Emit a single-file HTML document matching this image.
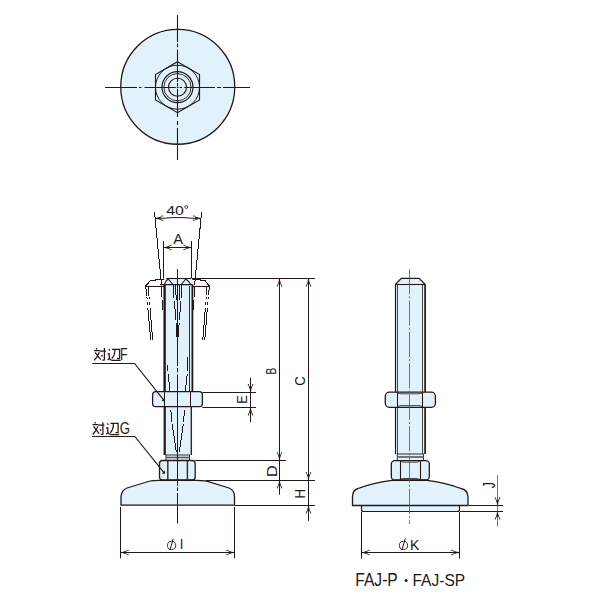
<!DOCTYPE html>
<html><head><meta charset="utf-8"><style>
html,body{margin:0;padding:0;background:#fff;width:600px;height:600px;overflow:hidden}
svg{display:block}
text{font-family:"Liberation Sans",sans-serif;fill:#231815}
</style></head><body>
<svg width="600" height="600" viewBox="0 0 600 600">
<rect width="600" height="600" fill="#fff"/>
<ellipse cx="177.75" cy="86.85" rx="57.0" ry="57.4" fill="#e2f2fc" stroke="#231815" stroke-width="1.3"/>
<polygon points="177.50,61.75 199.54,74.47 199.54,99.92 177.50,112.65 155.46,99.93 155.46,74.47" fill="#e2f2fc" stroke="#231815" stroke-width="1.1"/>
<circle cx="177.5" cy="87.2" r="22.0" fill="none" stroke="#231815" stroke-width="1"/>
<circle cx="177.5" cy="87.2" r="15.5" fill="none" stroke="#231815" stroke-width="1.2"/>
<circle cx="177.5" cy="87.2" r="13.6" fill="none" stroke="#231815" stroke-width="0.9"/>
<circle cx="177.5" cy="87.2" r="9" fill="none" stroke="#231815" stroke-width="1.1"/>
<path d="M177.5,15V42 M177.5,43.4V47.3 M177.5,49.7V82 M177.5,83V86 M177.5,86.6V88.2 M177.5,89V117 M177.5,121V125 M177.5,128V160" stroke="#231815" stroke-width="1.1" fill="none"/>
<path d="M105,87.5H137 M139,87.5H141.5 M144.5,87.5H175.8 M176.8,87.5H178.5 M179.5,87.5H182 M184.3,87.5H215 M217,87.5H221 M223,87.5H250" stroke="#231815" stroke-width="1.1" fill="none"/>
<path d="M154.5,212 L161.5,285" fill="none" stroke="#231815" stroke-width="1" shape-rendering="crispEdges"/>
<path d="M201.6,212 L194.6,285" fill="none" stroke="#231815" stroke-width="1" shape-rendering="crispEdges"/>
<path d="M155,218.4 L165,218.2 L172,217.6 H184 L191,218.2 L201,218.4" fill="none" stroke="#231815" stroke-width="1"/>
<path d="M155.00,218.50 L160.37,219.13 L160.28,217.33Z" fill="#231815" stroke="#231815" stroke-width="0.4"/>
<path d="M163.29,220.19 L161.82,220.26 L160.12,219.05 L157.46,218.38 L160.04,217.45 L161.61,216.07 L163.08,215.99" fill="none" stroke="#231815" stroke-width="0.9" stroke-linejoin="round"/>
<path d="M201.00,218.50 L195.72,217.33 L195.63,219.13Z" fill="#231815" stroke="#231815" stroke-width="0.4"/>
<path d="M192.92,215.99 L194.39,216.07 L195.96,217.45 L198.54,218.38 L195.88,219.05 L194.18,220.26 L192.71,220.19" fill="none" stroke="#231815" stroke-width="0.9" stroke-linejoin="round"/>
<text transform="translate(166.28,214.67) scale(1.201,1)" font-size="13.24">40</text>
<circle cx="186.3" cy="207.0" r="1.45" fill="none" stroke="#231815" stroke-width="0.8"/>
<line x1="163.5" y1="241" x2="163.5" y2="278.5" stroke="#231815" stroke-width="1"/>
<line x1="191.5" y1="241" x2="191.5" y2="278.5" stroke="#231815" stroke-width="1"/>
<line x1="163.5" y1="247.5" x2="191.6" y2="247.5" stroke="#231815" stroke-width="1"/>
<path d="M163.50,247.50 L168.83,248.40 L168.83,246.60Z" fill="#231815" stroke="#231815" stroke-width="0.4"/>
<path d="M171.70,249.60 L170.22,249.60 L168.58,248.30 L165.96,247.50 L168.58,246.70 L170.22,245.40 L171.70,245.40" fill="none" stroke="#231815" stroke-width="0.9" stroke-linejoin="round"/>
<path d="M191.60,247.50 L186.27,246.60 L186.27,248.40Z" fill="#231815" stroke="#231815" stroke-width="0.4"/>
<path d="M183.40,245.40 L184.88,245.40 L186.52,246.70 L189.14,247.50 L186.52,248.30 L184.88,249.60 L183.40,249.60" fill="none" stroke="#231815" stroke-width="0.9" stroke-linejoin="round"/>
<text transform="translate(173.20,243.80) scale(0.975,1)" font-size="15.07">A</text>
<path d="M166,279 H156 L155.5,280.5 H150.5 L145.7,286 H164" fill="none" stroke="#231815" stroke-width="1.0" shape-rendering="crispEdges"/>
<path d="M145.7,286 L146.6,295.5 M146.9,296.7 L147.1,299.3 M147.3,302 L147.5,304.7 M147.8,307.5 L150.7,339.7" fill="none" stroke="#231815" stroke-width="1.0" shape-rendering="crispEdges"/>
<path d="M148.3,287 L148.8,295.5 M149.1,296.7 L149.3,299.3 M149.5,302 L149.7,304.7 M150,307.5 L152.7,339.7" fill="none" stroke="#231815" stroke-width="1.0" shape-rendering="crispEdges"/>
<path d="M190,279 H200 L200.5,280.5 H205 L209.3,286 H192" fill="none" stroke="#231815" stroke-width="1.0" shape-rendering="crispEdges"/>
<path d="M209.3,286 L208.6,295.5 M208.3,296.7 L208.1,299.3 M207.9,302 L207.7,304.7 M207.4,307.5 L204.8,339.7" fill="none" stroke="#231815" stroke-width="1.0" shape-rendering="crispEdges"/>
<path d="M206.8,287 L206.5,295.5 M206.3,296.7 L206.1,299.3 M205.9,302 L205.7,304.7 M205.4,307.5 L202.8,339.7" fill="none" stroke="#231815" stroke-width="1.0" shape-rendering="crispEdges"/>
<path d="M161.5,287 L161.7,297 M162,300 L162.3,310" fill="none" stroke="#231815" stroke-width="1.0" shape-rendering="crispEdges"/>
<path d="M194.5,287 L194.3,297 M194,300 L193.7,310" fill="none" stroke="#231815" stroke-width="1.0" shape-rendering="crispEdges"/>
<rect x="164.3" y="278.5" width="28" height="176.5" fill="#e2f2fc"/>
<line x1="164.6" y1="284.3" x2="164.6" y2="392" stroke="#231815" stroke-width="2.4"/>
<line x1="164.4" y1="407" x2="164.4" y2="455" stroke="#231815" stroke-width="1.6"/>
<line x1="192.4" y1="284.3" x2="192.4" y2="392" stroke="#231815" stroke-width="1.8"/>
<line x1="191.3" y1="407" x2="191.3" y2="455" stroke="#231815" stroke-width="1.3"/>
<line x1="165.5" y1="407" x2="165.5" y2="455" stroke="#231815" stroke-width="0.8"/>
<line x1="189.5" y1="286" x2="189.5" y2="392" stroke="#231815" stroke-width="0.9"/>
<path d="M166.3,278.5 H191.2" fill="none" stroke="#231815" stroke-width="1.1"/>
<path d="M160,284.6 H192.5" fill="none" stroke="#231815" stroke-width="1.1"/>
<path d="M164.5,284.5 Q166,280.5 168.1,279 L173,284.5 M181.3,284.5 L185.8,279 Q188,280.5 190.8,284.5" fill="none" stroke="#231815" stroke-width="1.1"/>
<path d="M173.2,285 L174,298 M174.3,301 L176,320 M176.2,323 L176.8,337 M182,285 L181.2,298 M181,301 L179.3,320 M179.1,323 L178.5,337" fill="none" stroke="#231815" stroke-width="1.0" shape-rendering="crispEdges"/>
<path d="M175.5,285 L176.3,300 M180,285 L179.2,300" fill="none" stroke="#231815" stroke-width="1.0" shape-rendering="crispEdges"/>
<path d="M167.2,365 L167.6,371 M168.2,374 L170,392 M188,357 L187.5,371 M187.2,374 L185.3,392" fill="none" stroke="#231815" stroke-width="1.0" shape-rendering="crispEdges"/>
<path d="M170.8,410 L172,422 M172.2,424 L176.3,452 M184.5,410 L183.5,422 M183.3,424 L179.3,452" fill="none" stroke="#231815" stroke-width="1.0" shape-rendering="crispEdges"/>
<rect x="152.6" y="391.6" width="49.8" height="15.0" rx="3.2" ry="3.2" fill="#e2f2fc" stroke="#231815" stroke-width="1.3"/>
<line x1="164.5" y1="392" x2="164.5" y2="407" stroke="#231815" stroke-width="1"/>
<line x1="190.5" y1="392" x2="190.5" y2="407" stroke="#231815" stroke-width="1"/>
<rect x="166" y="455" width="23.5" height="5.5" fill="#e2f2fc" stroke="#231815" stroke-width="0.9"/>
<line x1="166" y1="457.5" x2="189.5" y2="457.5" stroke="#555" stroke-width="1.6"/>
<rect x="159.5" y="460.5" width="35.7" height="19.5" rx="3" ry="3" fill="#e2f2fc" stroke="#231815" stroke-width="1.3"/>
<line x1="167.8" y1="461" x2="167.8" y2="480" stroke="#333" stroke-width="1.5"/>
<line x1="187.4" y1="461" x2="187.4" y2="480" stroke="#333" stroke-width="1.5"/>
<path d="M121,505.2 V497 Q121.5,490 127,488 L150,481 Q152,480.3 160,480.3 H196 Q203,480.3 206,481 L229,488 Q234.5,490 234.5,497 V505.2 Z" fill="#e2f2fc" stroke="#231815" stroke-width="1.3"/>
<path d="M177.5,269V366 M177.5,368V372.4 M177.5,374.5V486 M177.5,487.5V491 M177.5,493V523.5" stroke="#231815" stroke-width="1.0" fill="none"/>
<line x1="192" y1="278.5" x2="315" y2="278.5" stroke="#231815" stroke-width="1.1"/>
<line x1="202.4" y1="392.5" x2="256" y2="392.5" stroke="#231815" stroke-width="1.1"/>
<line x1="202.4" y1="407.5" x2="256" y2="407.5" stroke="#231815" stroke-width="1.1"/>
<line x1="195.2" y1="460.5" x2="286" y2="460.5" stroke="#231815" stroke-width="1.1"/>
<line x1="206" y1="480.5" x2="315" y2="480.5" stroke="#231815" stroke-width="1.1"/>
<line x1="234.5" y1="505.5" x2="315" y2="505.5" stroke="#231815" stroke-width="1.1"/>
<line x1="279.5" y1="278.4" x2="279.5" y2="460.3" stroke="#231815" stroke-width="1"/>
<path d="M279.50,278.40 L278.60,283.73 L280.40,283.73Z" fill="#231815" stroke="#231815" stroke-width="0.4"/>
<path d="M277.40,286.60 L277.40,285.12 L278.70,283.48 L279.50,280.86 L280.30,283.48 L281.60,285.12 L281.60,286.60" fill="none" stroke="#231815" stroke-width="0.9" stroke-linejoin="round"/>
<path d="M279.50,460.30 L280.40,454.97 L278.60,454.97Z" fill="#231815" stroke="#231815" stroke-width="0.4"/>
<path d="M281.60,452.10 L281.60,453.58 L280.30,455.22 L279.50,457.84 L278.70,455.22 L277.40,453.58 L277.40,452.10" fill="none" stroke="#231815" stroke-width="0.9" stroke-linejoin="round"/>
<line x1="308.5" y1="278.4" x2="308.5" y2="480.2" stroke="#231815" stroke-width="1"/>
<path d="M308.50,278.40 L307.60,283.73 L309.40,283.73Z" fill="#231815" stroke="#231815" stroke-width="0.4"/>
<path d="M306.40,286.60 L306.40,285.12 L307.70,283.48 L308.50,280.86 L309.30,283.48 L310.60,285.12 L310.60,286.60" fill="none" stroke="#231815" stroke-width="0.9" stroke-linejoin="round"/>
<path d="M308.50,480.20 L309.40,474.87 L307.60,474.87Z" fill="#231815" stroke="#231815" stroke-width="0.4"/>
<path d="M310.60,472.00 L310.60,473.48 L309.30,475.12 L308.50,477.74 L307.70,475.12 L306.40,473.48 L306.40,472.00" fill="none" stroke="#231815" stroke-width="0.9" stroke-linejoin="round"/>
<line x1="279.5" y1="460.3" x2="279.5" y2="494.7" stroke="#231815" stroke-width="1"/>
<path d="M279.50,480.20 L278.60,485.53 L280.40,485.53Z" fill="#231815" stroke="#231815" stroke-width="0.4"/>
<path d="M277.40,488.40 L277.40,486.92 L278.70,485.28 L279.50,482.66 L280.30,485.28 L281.60,486.92 L281.60,488.40" fill="none" stroke="#231815" stroke-width="0.9" stroke-linejoin="round"/>
<line x1="250.5" y1="377.7" x2="250.5" y2="422" stroke="#231815" stroke-width="1"/>
<path d="M250.50,392.20 L251.40,386.87 L249.60,386.87Z" fill="#231815" stroke="#231815" stroke-width="0.4"/>
<path d="M252.60,384.00 L252.60,385.48 L251.30,387.12 L250.50,389.74 L249.70,387.12 L248.40,385.48 L248.40,384.00" fill="none" stroke="#231815" stroke-width="0.9" stroke-linejoin="round"/>
<path d="M250.50,407.30 L249.60,412.63 L251.40,412.63Z" fill="#231815" stroke="#231815" stroke-width="0.4"/>
<path d="M248.40,415.50 L248.40,414.02 L249.70,412.38 L250.50,409.76 L251.30,412.38 L252.60,414.02 L252.60,415.50" fill="none" stroke="#231815" stroke-width="0.9" stroke-linejoin="round"/>
<line x1="308.5" y1="480.2" x2="308.5" y2="521" stroke="#231815" stroke-width="1"/>
<path d="M308.50,505.30 L307.60,510.63 L309.40,510.63Z" fill="#231815" stroke="#231815" stroke-width="0.4"/>
<path d="M306.40,513.50 L306.40,512.02 L307.70,510.38 L308.50,507.76 L309.30,510.38 L310.60,512.02 L310.60,513.50" fill="none" stroke="#231815" stroke-width="0.9" stroke-linejoin="round"/>
<text transform="translate(276.40,374.42) rotate(-90) scale(0.689,1)" font-size="14.78">B</text>
<text transform="translate(304.86,385.67) rotate(-90) scale(0.966,1)" font-size="13.80">C</text>
<text transform="translate(247.00,403.82) rotate(-90) scale(0.824,1)" font-size="15.51">E</text>
<text transform="translate(276.80,477.10) rotate(-90) scale(1.059,1)" font-size="15.36">D</text>
<text transform="translate(305.10,498.56) rotate(-90) scale(0.921,1)" font-size="14.35">H</text>
<path transform="translate(93,346)" d="M3.3,2.0 L3.9,3.4 M1.0,4.6 H6.8 M2.1,6.3 L7.6,13.6 M6.3,6.3 Q5,10.5 1.2,14.4 M6.8,5.1 H12.9 M11.4,2.1 V13.8 Q11.4,14.5 9.3,14.1 M8.6,9 L9.5,10.6 M15.8,3.2 L16.9,4.7 M14.5,7.8 H16.3 V12.4 L14.7,14.2 M16.3,12.6 Q17.5,14.4 20,14.4 H27.7 M19,3.3 H26.6 V12.3 Q26.6,12.9 24,12.4 M21.9,3.3 Q21.9,10 18.7,12.6" fill="none" stroke="#231815" stroke-width="1.25"/>
<text transform="translate(119.90,360.00) scale(0.753,1)" font-size="16.52">F</text>
<text transform="translate(119.75,434.04) scale(0.836,1)" font-size="15.63">G</text>
<path transform="translate(91.5,420.1)" d="M3.3,2.0 L3.9,3.4 M1.0,4.6 H6.8 M2.1,6.3 L7.6,13.6 M6.3,6.3 Q5,10.5 1.2,14.4 M6.8,5.1 H12.9 M11.4,2.1 V13.8 Q11.4,14.5 9.3,14.1 M8.6,9 L9.5,10.6 M15.8,3.2 L16.9,4.7 M14.5,7.8 H16.3 V12.4 L14.7,14.2 M16.3,12.6 Q17.5,14.4 20,14.4 H27.7 M19,3.3 H26.6 V12.3 Q26.6,12.9 24,12.4 M21.9,3.3 Q21.9,10 18.7,12.6" fill="none" stroke="#231815" stroke-width="1.25"/>
<path d="M92.3,363.5 H134.5 L164.2,400.6" fill="none" stroke="#231815" stroke-width="1.15"/>
<path d="M164.8,401.2 L161.6,401.1 L164.5,397.6 Z" fill="#231815"/>
<path d="M92,436.5 H134.8 L164.4,473.2" fill="none" stroke="#231815" stroke-width="1.15"/>
<path d="M165,473.8 L161.8,473.7 L164.7,470.2 Z" fill="#231815"/>
<line x1="120.5" y1="507" x2="120.5" y2="558.3" stroke="#231815" stroke-width="1"/>
<line x1="234.5" y1="507" x2="234.5" y2="558.3" stroke="#231815" stroke-width="1"/>
<line x1="120.5" y1="552.5" x2="234.4" y2="552.5" stroke="#231815" stroke-width="1"/>
<path d="M120.50,552.50 L125.83,553.40 L125.83,551.60Z" fill="#231815" stroke="#231815" stroke-width="0.4"/>
<path d="M128.70,554.60 L127.22,554.60 L125.58,553.30 L122.96,552.50 L125.58,551.70 L127.22,550.40 L128.70,550.40" fill="none" stroke="#231815" stroke-width="0.9" stroke-linejoin="round"/>
<path d="M234.40,552.50 L229.07,551.60 L229.07,553.40Z" fill="#231815" stroke="#231815" stroke-width="0.4"/>
<path d="M226.20,550.40 L227.68,550.40 L229.32,551.70 L231.94,552.50 L229.32,553.30 L227.68,554.60 L226.20,554.60" fill="none" stroke="#231815" stroke-width="0.9" stroke-linejoin="round"/>
<text transform="translate(179.83,549.20) scale(0.897,1)" font-size="14.49">I</text>
<ellipse cx="171.6" cy="545.4" rx="4.1" ry="4.1" fill="none" stroke="#231815" stroke-width="0.9"/>
<line x1="173.2" y1="538.7" x2="170.0" y2="550.0" stroke="#231815" stroke-width="1.0"/>
<path d="M395.4,284.5 L401.3,278.4 H419.1 L425.3,284.5 V454 H395.4 Z" fill="#e2f2fc"/>
<path d="M395.4,284.5 L401.3,278.4 H419.1 L425.3,284.5" fill="none" stroke="#231815" stroke-width="1.2"/>
<line x1="395.4" y1="284.5" x2="425.3" y2="284.5" stroke="#231815" stroke-width="1.1"/>
<line x1="395.5" y1="284.5" x2="395.5" y2="454" stroke="#231815" stroke-width="1.2"/>
<line x1="397.5" y1="284.5" x2="397.5" y2="454" stroke="#231815" stroke-width="0.8"/>
<line x1="425.1" y1="284.5" x2="425.1" y2="454" stroke="#231815" stroke-width="1.7"/>
<line x1="422.5" y1="284.5" x2="422.5" y2="454" stroke="#231815" stroke-width="0.8"/>
<rect x="385.3" y="392.2" width="50.1" height="15.1" rx="4" ry="4" fill="#e2f2fc" stroke="#231815" stroke-width="1.3"/>
<line x1="397.5" y1="392.5" x2="397.5" y2="407" stroke="#231815" stroke-width="1.1"/>
<line x1="422.5" y1="392.5" x2="422.5" y2="407" stroke="#231815" stroke-width="1.1"/>
<path d="M397.5,393 Q399.5,393.8 402,393.8 H418 Q420.5,393.8 422.5,393 M397.5,406.5 Q399.5,405.6 402,405.6 H418 Q420.5,405.6 422.5,406.5" fill="none" stroke="#231815" stroke-width="0.8"/>
<rect x="397.2" y="454" width="26.2" height="6.6" fill="#e2f2fc" stroke="#231815" stroke-width="0.9"/>
<line x1="397.2" y1="457" x2="423.4" y2="457" stroke="#555" stroke-width="1.6"/>
<rect x="391.3" y="460.6" width="38" height="19.4" rx="3.5" ry="3.5" fill="#e2f2fc" stroke="#231815" stroke-width="1.3"/>
<line x1="400.5" y1="461" x2="400.5" y2="480" stroke="#231815" stroke-width="1.1"/>
<line x1="420.5" y1="461" x2="420.5" y2="480" stroke="#231815" stroke-width="1.1"/>
<path d="M400.5,461.2 Q402,462.2 404,462.2 H416 Q418,462.2 419.5,461.2 M400.5,479.4 Q402,478.5 404,478.5 H416 Q418,478.5 419.5,479.4" fill="none" stroke="#231815" stroke-width="0.8"/>
<path d="M361.5,505.5 V509.5 Q361.5,511.5 363.5,511.5 H457.5 Q459.5,511.5 459.5,509.5 V505.5 Z" fill="#e2f2fc" stroke="#231815" stroke-width="1.2"/>
<path d="M352.5,505.5 V497 Q352.5,490 358,488.5 Q375,482 392,480.3 H427 Q444,482 461,488.5 Q468,490 468,497 V505.5 Z" fill="#e2f2fc" stroke="#231815" stroke-width="1.3"/>
<path d="M409.5,269.0V294.3 M409.5,296.3V298.40000000000003 M409.5,300.40000000000003V325.70000000000005 M409.5,327.70000000000005V329.80000000000007 M409.5,331.80000000000007V357.1000000000001 M409.5,359.1000000000001V361.2000000000001 M409.5,363.2000000000001V388.5000000000001 M409.5,390.5000000000001V392.60000000000014 M409.5,394.60000000000014V419.90000000000015 M409.5,421.90000000000015V424.00000000000017 M409.5,426.00000000000017V451.3000000000002 M409.5,453.3000000000002V455.4000000000002 M409.5,457.4000000000002V482.7000000000002 M409.5,484.7000000000002V486.80000000000024 M409.5,488.80000000000024V514.1000000000003 M409.5,516.1000000000003V518.2000000000003 M409.5,520.2000000000003V524" stroke="#555" stroke-width="0.8" fill="none"/>
<line x1="361.5" y1="512" x2="361.5" y2="558.6" stroke="#231815" stroke-width="1"/>
<line x1="459.5" y1="512" x2="459.5" y2="558.6" stroke="#231815" stroke-width="1"/>
<line x1="361.5" y1="552.5" x2="459.5" y2="552.5" stroke="#231815" stroke-width="1"/>
<path d="M361.50,552.50 L366.83,553.40 L366.83,551.60Z" fill="#231815" stroke="#231815" stroke-width="0.4"/>
<path d="M369.70,554.60 L368.22,554.60 L366.58,553.30 L363.96,552.50 L366.58,551.70 L368.22,550.40 L369.70,550.40" fill="none" stroke="#231815" stroke-width="0.9" stroke-linejoin="round"/>
<path d="M459.50,552.50 L454.17,551.60 L454.17,553.40Z" fill="#231815" stroke="#231815" stroke-width="0.4"/>
<path d="M451.30,550.40 L452.78,550.40 L454.42,551.70 L457.04,552.50 L454.42,553.30 L452.78,554.60 L451.30,554.60" fill="none" stroke="#231815" stroke-width="0.9" stroke-linejoin="round"/>
<text transform="translate(409.88,549.60) scale(0.931,1)" font-size="15.07">K</text>
<text transform="translate(355.25,586.43) scale(0.897,1)" font-size="17.43">FAJ-P</text>
<text transform="translate(412.46,586.43) scale(0.905,1)" font-size="17.18">FAJ-SP</text>
<circle cx="406.1" cy="580.6" r="1.5" fill="#231815"/>
<ellipse cx="403.5" cy="545.4" rx="4.1" ry="4.1" fill="none" stroke="#231815" stroke-width="0.9"/>
<line x1="405.3" y1="538.5" x2="401.9" y2="550.2" stroke="#231815" stroke-width="1.0"/>
<line x1="469" y1="505.5" x2="503" y2="505.5" stroke="#231815" stroke-width="1.1"/>
<line x1="460" y1="511.5" x2="503" y2="511.5" stroke="#231815" stroke-width="1.1"/>
<line x1="497.5" y1="475" x2="497.5" y2="526.5" stroke="#666" stroke-width="0.9"/>
<path d="M497.50,505.50 L498.40,500.17 L496.60,500.17Z" fill="#231815" stroke="#231815" stroke-width="0.4"/>
<path d="M499.60,497.30 L499.60,498.78 L498.30,500.42 L497.50,503.04 L496.70,500.42 L495.40,498.78 L495.40,497.30" fill="none" stroke="#231815" stroke-width="0.9" stroke-linejoin="round"/>
<path d="M497.50,511.30 L496.60,516.63 L498.40,516.63Z" fill="#231815" stroke="#231815" stroke-width="0.4"/>
<path d="M495.40,519.50 L495.40,518.02 L496.70,516.38 L497.50,513.76 L498.30,516.38 L499.60,518.02 L499.60,519.50" fill="none" stroke="#231815" stroke-width="0.9" stroke-linejoin="round"/>
<text transform="translate(495.03,488.14) rotate(-90) scale(0.736,1)" font-size="16.57">J</text>
</svg>
</body></html>
